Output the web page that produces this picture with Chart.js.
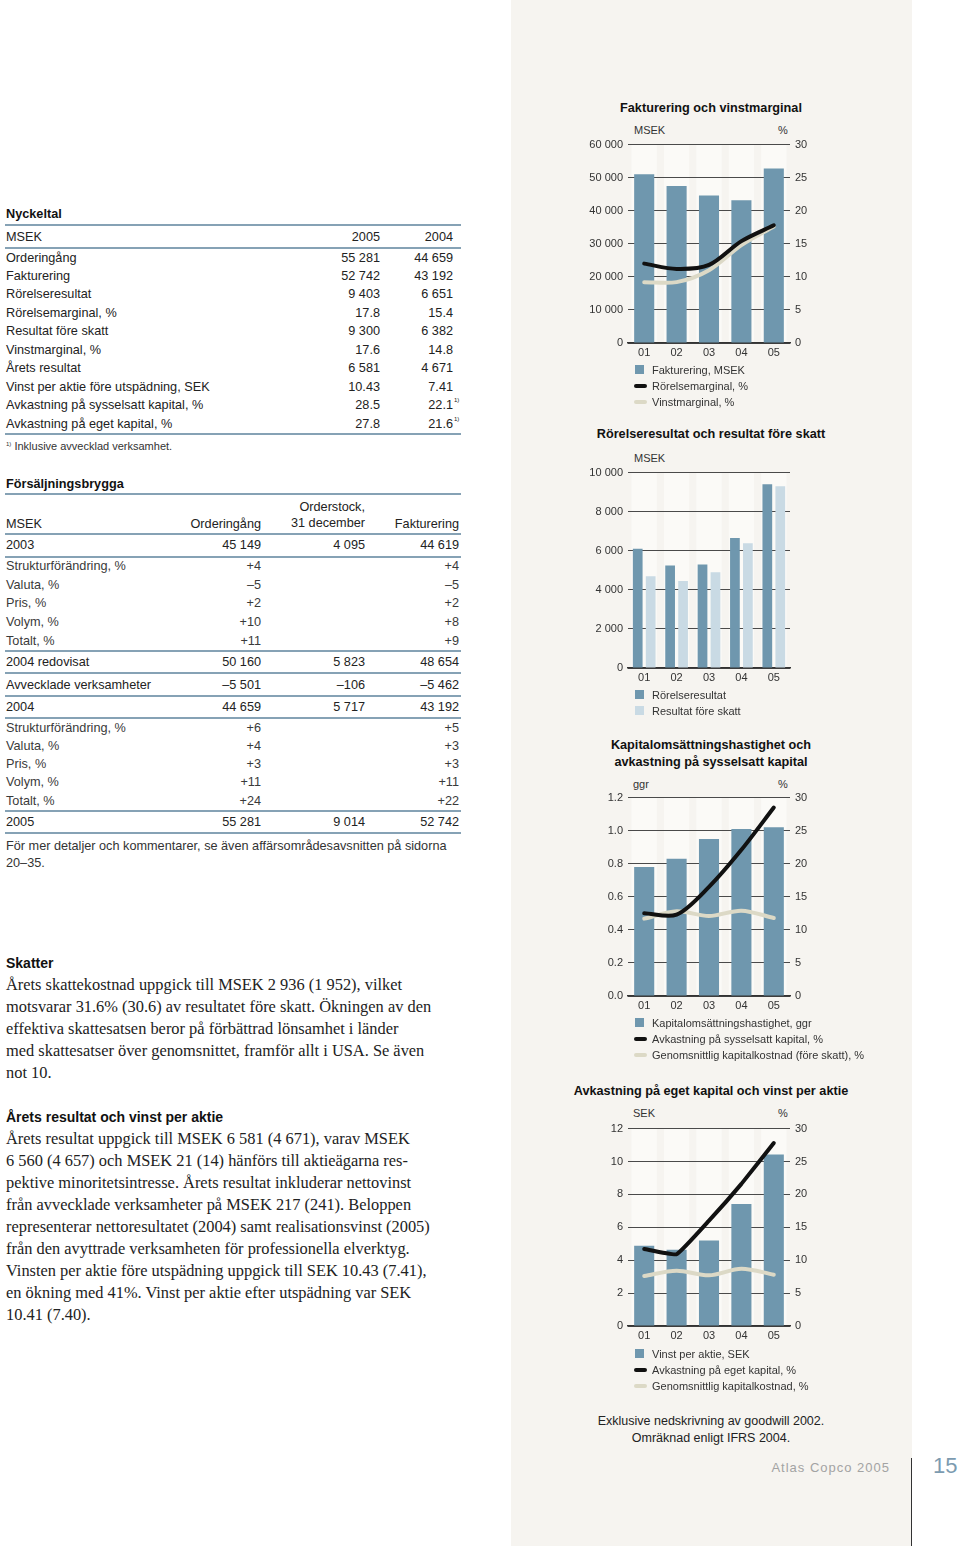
<!DOCTYPE html>
<html lang="sv">
<head>
<meta charset="utf-8">
<script src="https://cdn.jsdelivr.net/npm/chart.js@4.4.1/dist/chart.umd.min.js"></script>
<style>
  html, body { margin: 0; padding: 0; background: #fff; }
  body { width: 960px; height: 1546px; position: relative; overflow: hidden;
         font-family: "Liberation Sans", Arial, sans-serif; color: #222; }
  .abs { position: absolute; }
  .panel { left: 511px; top: 0; width: 401px; height: 1546px; background: #f6f4f0; }
  .ctitle { font-weight: bold; font-size: 12.7px; text-align: center; width: 320px; left: 551px; line-height: 17px; color: #111; }
  .unit { font-size: 11px; line-height: 13px; color: #333; }
  .legend { font-size: 11px; color: #333; line-height: 16px; }
  .legend div { position: relative; padding-left: 18px; height: 16px; white-space: nowrap; }
  .sw-box { position: absolute; left: 1px; top: 3px; width: 9px; height: 9px; }
  .sw-line { position: absolute; left: 0; top: 6px; width: 13px; height: 4px; border-radius: 2px; }
  .cbox { position: absolute; }
  table { border-collapse: collapse; font-size: 12.7px; }
  td { padding: 0; white-space: nowrap; }
  .num { text-align: right; }
  .tt { font-weight: bold; font-size: 12.7px; line-height: 16px; color: #111; }
  .ln { border-bottom: 2.5px solid #86a2b5; }
  .lt { border-top: 2.5px solid #86a2b5; }
  .sub td { color: #3a3a3a; }
  .sup { position: absolute; left: 100%; top: -1px; font-size: 6px; padding-left: 1px; }
  .rel { position: relative; }
  .serif { font-family: "Liberation Serif", "Times New Roman", serif; font-size: 16.4px; line-height: 22px; color: #222; white-space: nowrap; }
  .stitle { font-weight: bold; font-size: 14px; line-height: 18px; color: #111; }
</style>
</head>
<body>
<div class="abs panel"></div>

<!-- Nyckeltal -->
<div class="abs tt" style="left:6px;top:206px;">Nyckeltal</div>
<table class="abs" style="left:5px;top:224px;width:456px;">
  <tr class="lt ln" style="height:23px;"><td style="padding-left:1px;">MSEK</td><td class="num" style="width:80px;">2005</td><td class="num" style="width:73px;padding-right:8px;">2004</td></tr>
  <tr style="height:18.5px;"><td style="padding-left:1px;">Orderingång</td><td class="num">55 281</td><td class="num" style="padding-right:8px;">44 659</td></tr>
  <tr style="height:18.5px;"><td style="padding-left:1px;">Fakturering</td><td class="num">52 742</td><td class="num" style="padding-right:8px;">43 192</td></tr>
  <tr style="height:18.5px;"><td style="padding-left:1px;">Rörelseresultat</td><td class="num">9 403</td><td class="num" style="padding-right:8px;">6 651</td></tr>
  <tr style="height:18.5px;"><td style="padding-left:1px;">Rörelsemarginal, %</td><td class="num">17.8</td><td class="num" style="padding-right:8px;">15.4</td></tr>
  <tr style="height:18.5px;"><td style="padding-left:1px;">Resultat före skatt</td><td class="num">9 300</td><td class="num" style="padding-right:8px;">6 382</td></tr>
  <tr style="height:18.5px;"><td style="padding-left:1px;">Vinstmarginal, %</td><td class="num">17.6</td><td class="num" style="padding-right:8px;">14.8</td></tr>
  <tr style="height:18.5px;"><td style="padding-left:1px;">Årets resultat</td><td class="num">6 581</td><td class="num" style="padding-right:8px;">4 671</td></tr>
  <tr style="height:18.5px;"><td style="padding-left:1px;">Vinst per aktie före utspädning, SEK</td><td class="num">10.43</td><td class="num" style="padding-right:8px;">7.41</td></tr>
  <tr style="height:18.5px;"><td style="padding-left:1px;">Avkastning på sysselsatt kapital, %</td><td class="num">28.5</td><td class="num" style="padding-right:8px;"><span class="rel">22.1<span class="sup">1)</span></span></td></tr>
  <tr class="ln" style="height:19px;"><td style="padding-left:1px;">Avkastning på eget kapital, %</td><td class="num">27.8</td><td class="num" style="padding-right:8px;"><span class="rel">21.6<span class="sup">1)</span></span></td></tr>
</table>
<div class="abs" style="left:6px;top:437px;font-size:11px;line-height:14px;color:#333;"><span style="font-size:6px;vertical-align:4px;">1)</span> Inklusive avvecklad verksamhet.</div>

<!-- Försäljningsbrygga -->
<div class="abs tt" style="left:6px;top:476px;">Försäljningsbrygga</div>
<table class="abs" style="left:5px;top:493px;width:456px;">
  <tr class="lt ln" style="height:40px;vertical-align:bottom;">
    <td style="padding-left:1px;padding-bottom:2px;">MSEK</td>
    <td class="num" style="width:110px;padding-bottom:2px;">Orderingång</td>
    <td class="num" style="width:104px;padding-bottom:2px;line-height:16px;">Orderstock,<br>31 december</td>
    <td class="num" style="width:94px;padding-right:2px;padding-bottom:2px;">Fakturering</td>
  </tr>
  <tr class="ln" style="height:22.5px;"><td style="padding-left:1px;">2003</td><td class="num">45 149</td><td class="num">4 095</td><td class="num" style="padding-right:2px;">44 619</td></tr>
  <tr class="sub" style="height:18.8px;"><td style="padding-left:1px;">Strukturförändring, %</td><td class="num">+4</td><td></td><td class="num" style="padding-right:2px;">+4</td></tr>
  <tr class="sub" style="height:18.8px;"><td style="padding-left:1px;">Valuta, %</td><td class="num">–5</td><td></td><td class="num" style="padding-right:2px;">–5</td></tr>
  <tr class="sub" style="height:18.8px;"><td style="padding-left:1px;">Pris, %</td><td class="num">+2</td><td></td><td class="num" style="padding-right:2px;">+2</td></tr>
  <tr class="sub" style="height:18.8px;"><td style="padding-left:1px;">Volym, %</td><td class="num">+10</td><td></td><td class="num" style="padding-right:2px;">+8</td></tr>
  <tr class="sub ln" style="height:19.5px;"><td style="padding-left:1px;">Totalt, %</td><td class="num">+11</td><td></td><td class="num" style="padding-right:2px;">+9</td></tr>
  <tr class="ln" style="height:22.3px;"><td style="padding-left:1px;">2004 redovisat</td><td class="num">50 160</td><td class="num">5 823</td><td class="num" style="padding-right:2px;">48 654</td></tr>
  <tr class="ln" style="height:22.3px;"><td style="padding-left:1px;">Avvecklade verksamheter</td><td class="num">–5 501</td><td class="num">–106</td><td class="num" style="padding-right:2px;">–5 462</td></tr>
  <tr class="ln" style="height:22.3px;"><td style="padding-left:1px;">2004</td><td class="num">44 659</td><td class="num">5 717</td><td class="num" style="padding-right:2px;">43 192</td></tr>
  <tr class="sub" style="height:18.4px;"><td style="padding-left:1px;">Strukturförändring, %</td><td class="num">+6</td><td></td><td class="num" style="padding-right:2px;">+5</td></tr>
  <tr class="sub" style="height:18.4px;"><td style="padding-left:1px;">Valuta, %</td><td class="num">+4</td><td></td><td class="num" style="padding-right:2px;">+3</td></tr>
  <tr class="sub" style="height:18.4px;"><td style="padding-left:1px;">Pris, %</td><td class="num">+3</td><td></td><td class="num" style="padding-right:2px;">+3</td></tr>
  <tr class="sub" style="height:18.4px;"><td style="padding-left:1px;">Volym, %</td><td class="num">+11</td><td></td><td class="num" style="padding-right:2px;">+11</td></tr>
  <tr class="sub ln" style="height:19.2px;"><td style="padding-left:1px;">Totalt, %</td><td class="num">+24</td><td></td><td class="num" style="padding-right:2px;">+22</td></tr>
  <tr class="ln" style="height:22.5px;"><td style="padding-left:1px;">2005</td><td class="num">55 281</td><td class="num">9 014</td><td class="num" style="padding-right:2px;">52 742</td></tr>
</table>
<div class="abs" style="left:6px;top:838px;font-size:12.7px;line-height:16.5px;color:#333;">För mer detaljer och kommentarer, se även affärsområdesavsnitten på sidorna<br>20–35.</div>

<!-- Skatter -->
<div class="abs stitle" style="left:6px;top:954px;">Skatter</div>
<div class="abs serif" style="left:6px;top:974px;">Årets skattekostnad uppgick till MSEK 2 936 (1 952), vilket<br>motsvarar 31.6% (30.6) av resultatet före skatt. Ökningen av den<br>effektiva skattesatsen beror på förbättrad lönsamhet i länder<br>med skattesatser över genomsnittet, framför allt i USA. Se även<br>not 10.</div>
<div class="abs stitle" style="left:6px;top:1108px;">Årets resultat och vinst per aktie</div>
<div class="abs serif" style="left:6px;top:1128px;">Årets resultat uppgick till MSEK 6 581 (4 671), varav MSEK<br>6 560 (4 657) och MSEK 21 (14) hänförs till aktieägarna res-<br>pektive minoritetsintresse. Årets resultat inkluderar nettovinst<br>från avvecklade verksamheter på MSEK 217 (241). Beloppen<br>representerar nettoresultatet (2004) samt realisationsvinst (2005)<br>från den avyttrade verksamheten för professionella elverktyg.<br>Vinsten per aktie före utspädning uppgick till SEK 10.43 (7.41),<br>en ökning med 41%. Vinst per aktie efter utspädning var SEK<br>10.41 (7.40).</div>

<!-- Chart 1 -->
<div class="abs ctitle" style="top:100px;">Fakturering och vinstmarginal</div>
<div class="abs unit" style="left:634px;top:124px;">MSEK</div>
<div class="abs unit" style="left:778px;top:124px;">%</div>
<div class="cbox" style="left:575px;top:133px;width:250px;height:232px;"><canvas id="c1"></canvas></div>
<div class="abs legend" id="l1" style="left:634px;top:362px;"></div>

<!-- Chart 2 -->
<div class="abs ctitle" style="top:426px;">Rörelseresultat och resultat före skatt</div>
<div class="abs unit" style="left:634px;top:452px;">MSEK</div>
<div class="cbox" style="left:575px;top:461px;width:250px;height:229px;"><canvas id="c2"></canvas></div>
<div class="abs legend" id="l2" style="left:634px;top:687px;"></div>

<!-- Chart 3 -->
<div class="abs ctitle" style="top:737px;">Kapitalomsättningshastighet och<br>avkastning på sysselsatt kapital</div>
<div class="abs unit" style="left:633px;top:778px;">ggr</div>
<div class="abs unit" style="left:778px;top:778px;">%</div>
<div class="cbox" style="left:575px;top:786px;width:250px;height:232px;"><canvas id="c3"></canvas></div>
<div class="abs legend" id="l3" style="left:634px;top:1015px;"></div>

<!-- Chart 4 -->
<div class="abs ctitle" style="top:1083px;">Avkastning på eget kapital och vinst per aktie</div>
<div class="abs unit" style="left:633px;top:1107px;">SEK</div>
<div class="abs unit" style="left:778px;top:1107px;">%</div>
<div class="cbox" style="left:575px;top:1117px;width:250px;height:231px;"><canvas id="c4"></canvas></div>
<div class="abs legend" id="l4" style="left:634px;top:1346px;"></div>

<!-- Footer -->
<div class="abs" style="left:551px;width:320px;top:1413px;text-align:center;font-size:12.5px;line-height:17px;color:#222;">Exklusive nedskrivning av goodwill 2002.<br>Omräknad enligt IFRS 2004.</div>
<div class="abs" style="right:70px;top:1460px;font-size:13px;letter-spacing:1px;color:#a3a3a3;">Atlas Copco 2005</div>
<div class="abs" style="left:911px;top:1458px;width:1px;height:88px;background:#333;"></div>
<div class="abs" style="left:933px;top:1453px;font-size:22px;color:#7c9bb0;">15</div>

<script>
// categories
const years = ['01', '02', '03', '04', '05'];

// Fakturering och vinstmarginal
const fakturering = [51000, 47500, 44619, 43192, 52742];
const rorelsemarginal = [12.0, 11.2, 11.8, 15.4, 17.8];
const vinstmarginal = [9.2, 9.2, 11.0, 14.8, 17.6];

// Rörelseresultat och resultat före skatt
const rorelseresultat = [6100, 5250, 5300, 6651, 9403];
const resultatForeSkatt = [4700, 4450, 4900, 6382, 9300];

// Kapitalomsättningshastighet och avkastning på sysselsatt kapital
const kapitalomsattning = [0.78, 0.83, 0.95, 1.01, 1.02];
const avkSysselsatt = [12.5, 12.3, 16.5, 22.1, 28.5];
const kapkostnadFoereSkatt = [11.7, 12.8, 12.1, 12.9, 11.8];

// Avkastning på eget kapital och vinst per aktie
const vinstPerAktie = [4.88, 4.64, 5.2, 7.41, 10.43];
const avkEget = [11.7, 10.9, 16.0, 21.6, 27.8];
const kapkostnad = [7.6, 8.4, 7.7, 8.7, 7.8];

// tick labels
const ticks1Left = [0, 10000, 20000, 30000, 40000, 50000, 60000];
const ticks2Left = [0, 2000, 4000, 6000, 8000, 10000];
const ticks3Left = [0, 0.2, 0.4, 0.6, 0.8, 1.0, 1.2];
const ticks4Left = [0, 2, 4, 6, 8, 10, 12];
const ticksPct = [0, 5, 10, 15, 20, 25, 30];

const BLUE = '#6f97ae';
const LIGHT = '#c9dae4';
const BLACK = '#111111';
const CREAM = '#dcd9c6';

const fontTick = { family: '"Liberation Sans", Arial, sans-serif', size: 11 };
const thousands = v => String(v).replace(/\B(?=(\d{3})+(?!\d))/g, ' ');

// light vertical bands behind each category
const bands = {
    id: 'bands',
    beforeDraw(chart) {
        const { ctx, chartArea, scales } = chart;
        const x = scales.x;
        const w = x.width / chart.data.labels.length * 0.78;
        ctx.save();
        ctx.fillStyle = '#fbfaf7';
        chart.data.labels.forEach((l, i) => {
            const cx = x.getPixelForValue(i);
            ctx.fillRect(cx - w / 2, chartArea.top, w, chartArea.bottom - chartArea.top);
        });
        ctx.restore();
    }
};

function leftAxis(values, fmt) {
    return {
        position: 'left',
        min: values[0],
        max: values[values.length - 1],
        afterBuildTicks: s => { s.ticks = values.map(v => ({ value: v })); },
        afterFit: s => { s.width = 53; },
        grid: { color: '#4a4a4a', lineWidth: 1, drawTicks: false },
        border: { display: false },
        ticks: { padding: 5, color: '#333', font: fontTick, callback: fmt }
    };
}

function rightAxis(values) {
    return {
        position: 'right',
        min: values[0],
        max: values[values.length - 1],
        afterBuildTicks: s => { s.ticks = values.map(v => ({ value: v })); },
        afterFit: s => { s.width = 35; },
        grid: { display: false, drawTicks: false },
        border: { display: false },
        ticks: { padding: 5, color: '#333', font: fontTick }
    };
}

const xAxis = {
    afterFit: s => { s.height = 22; },
    grid: { display: false, drawTicks: false },
    border: { display: true, color: '#333', width: 1.5 },
    ticks: { padding: 3, color: '#333', font: fontTick }
};

function lineSet(label, data, color) {
    return {
        type: 'line', label, data, yAxisID: 'y1', order: 1,
        borderColor: color, borderWidth: 4, tension: 0.3,
        borderCapStyle: 'round', borderJoinStyle: 'round',
        pointRadius: 0, fill: false
    };
}

const baseOptions = (scales, padRight) => ({
    responsive: true,
    maintainAspectRatio: false,
    animation: false,
    layout: { padding: { top: 10, right: padRight || 0, bottom: 0, left: 0 } },
    plugins: { legend: { display: false }, tooltip: { enabled: false } },
    scales
});

// Chart 1
new Chart(document.getElementById('c1'), {
    type: 'bar',
    data: {
        labels: years,
        datasets: [
            { label: 'Fakturering, MSEK', data: fakturering, backgroundColor: BLUE, yAxisID: 'y', order: 2,
              categoryPercentage: 1, barPercentage: 0.62 },
            lineSet('Rörelsemarginal, %', rorelsemarginal, BLACK),
            lineSet('Vinstmarginal, %', vinstmarginal, CREAM)
        ]
    },
    options: baseOptions({ x: xAxis, y: leftAxis(ticks1Left, thousands), y1: rightAxis(ticksPct) }),
    plugins: [bands]
});

// Chart 2
new Chart(document.getElementById('c2'), {
    type: 'bar',
    data: {
        labels: years,
        datasets: [
            { label: 'Rörelseresultat', data: rorelseresultat, backgroundColor: BLUE,
              categoryPercentage: 0.8, barPercentage: 0.75 },
            { label: 'Resultat före skatt', data: resultatForeSkatt, backgroundColor: LIGHT,
              categoryPercentage: 0.8, barPercentage: 0.75 }
        ]
    },
    options: baseOptions({ x: xAxis, y: leftAxis(ticks2Left, thousands) }, 35),
    plugins: [bands]
});

// Chart 3
new Chart(document.getElementById('c3'), {
    type: 'bar',
    data: {
        labels: years,
        datasets: [
            { label: 'Kapitalomsättningshastighet, ggr', data: kapitalomsattning, backgroundColor: BLUE, yAxisID: 'y', order: 2,
              categoryPercentage: 1, barPercentage: 0.62 },
            lineSet('Avkastning på sysselsatt kapital, %', avkSysselsatt, BLACK),
            lineSet('Genomsnittlig kapitalkostnad (före skatt), %', kapkostnadFoereSkatt, CREAM)
        ]
    },
    options: baseOptions({ x: xAxis, y: leftAxis(ticks3Left, v => v.toFixed(1)), y1: rightAxis(ticksPct) }),
    plugins: [bands]
});

// Chart 4
new Chart(document.getElementById('c4'), {
    type: 'bar',
    data: {
        labels: years,
        datasets: [
            { label: 'Vinst per aktie, SEK', data: vinstPerAktie, backgroundColor: BLUE, yAxisID: 'y', order: 2,
              categoryPercentage: 1, barPercentage: 0.62 },
            Object.assign(lineSet('Avkastning på eget kapital, %', avkEget, BLACK), { tension: 0.1 }),
            lineSet('Genomsnittlig kapitalkostnad, %', kapkostnad, CREAM)
        ]
    },
    options: baseOptions({ x: xAxis, y: leftAxis(ticks4Left, v => String(v)), y1: rightAxis(ticksPct) }),
    plugins: [bands]
});

// HTML legends from dataset labels
function legend(id, items) {
    const el = document.getElementById(id);
    items.forEach(([label, color, kind]) => {
        const row = document.createElement('div');
        const sw = document.createElement('span');
        sw.className = kind === 'line' ? 'sw-line' : 'sw-box';
        sw.style.background = color;
        row.appendChild(sw);
        row.appendChild(document.createTextNode(label));
        el.appendChild(row);
    });
}
legend('l1', [['Fakturering, MSEK', BLUE, 'box'], ['Rörelsemarginal, %', BLACK, 'line'], ['Vinstmarginal, %', CREAM, 'line']]);
legend('l2', [['Rörelseresultat', BLUE, 'box'], ['Resultat före skatt', LIGHT, 'box']]);
legend('l3', [['Kapitalomsättningshastighet, ggr', BLUE, 'box'], ['Avkastning på sysselsatt kapital, %', BLACK, 'line'], ['Genomsnittlig kapitalkostnad (före skatt), %', CREAM, 'line']]);
legend('l4', [['Vinst per aktie, SEK', BLUE, 'box'], ['Avkastning på eget kapital, %', BLACK, 'line'], ['Genomsnittlig kapitalkostnad, %', CREAM, 'line']]);
</script>
</body>
</html>
